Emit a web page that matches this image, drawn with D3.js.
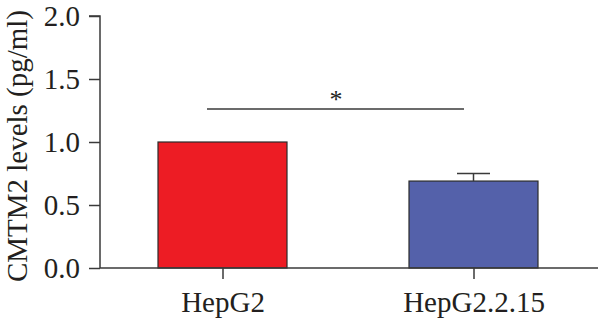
<!DOCTYPE html>
<html>
<head>
<meta charset="utf-8">
<script src="https://cdn.jsdelivr.net/npm/d3@7"></script>
<style>
  html, body { margin: 0; padding: 0; background: #fff; }
  svg { display: block; }
  text { font-family: "Liberation Serif", "DejaVu Serif", serif; fill: #231f20; }
</style>
</head>
<body>
<svg id="chart" width="600" height="322"></svg>
<script>
// CMTM2 levels per cell line
const categories = ["HepG2", "HepG2.2.15"];
const values = [1.0, 0.69];
const errors = [0, 0.06];
const colors = ["#ed1c24", "#5461aa"];
const yTicks = [0.0, 0.5, 1.0, 1.5, 2.0];
const yLabel = "CMTM2 levels (pg/ml)";
const significance = "*";

const svg = d3.select("#chart");
const axisColor = "#3a3a3a";
const fontSize = 29;

const xc = d3.scalePoint().domain(categories).range([222.5, 473.5]);
const barW = 129;
const y = d3.scaleLinear().domain([0, 2]).range([268, 16]);

// bars
svg.selectAll("rect.bar").data(categories).enter().append("rect")
  .attr("class", "bar")
  .attr("x", d => xc(d) - barW / 2)
  .attr("width", barW)
  .attr("y", (d, i) => y(values[i]))
  .attr("height", (d, i) => y(0) - y(values[i]))
  .attr("fill", (d, i) => colors[i])
  .attr("stroke", "#2b2b2b")
  .attr("stroke-width", 1.2);

// error bars (upper only)
categories.forEach((c, i) => {
  if (errors[i] > 0) {
    const top = y(values[i] + errors[i]);
    svg.append("line").attr("x1", xc(c)).attr("x2", xc(c))
      .attr("y1", y(values[i])).attr("y2", top)
      .attr("stroke", axisColor).attr("stroke-width", 1.5);
    svg.append("line").attr("x1", xc(c) - 16.5).attr("x2", xc(c) + 16.5)
      .attr("y1", top).attr("y2", top)
      .attr("stroke", axisColor).attr("stroke-width", 1.5);
  }
});

// y axis
const yAxis = d3.axisLeft(y).tickValues(yTicks).tickFormat(d3.format(".1f")).tickSize(11).tickPadding(9);
const gy = svg.append("g").attr("transform", "translate(100,0)").call(yAxis);
gy.select(".domain").attr("d", "M-11,16H0V268").attr("stroke", axisColor).attr("stroke-width", 1.5).attr("fill", "none");
gy.selectAll(".tick line").attr("stroke", axisColor).attr("stroke-width", 1.5);
gy.selectAll(".tick text").attr("font-size", fontSize).attr("font-family", "Liberation Serif, serif").attr("fill", "#231f20");

// x axis
const xAxis = d3.axisBottom(xc).tickSize(11).tickPadding(10);
const gx = svg.append("g").attr("transform", "translate(0,268)").call(xAxis);
gx.select(".domain").attr("d", "M100,0H598").attr("stroke", axisColor).attr("stroke-width", 1.5);
gx.selectAll(".tick line").attr("stroke", axisColor).attr("stroke-width", 1.5);
gx.selectAll(".tick text").attr("font-size", fontSize).attr("font-family", "Liberation Serif, serif")
  .attr("fill", "#231f20").attr("y", 44).attr("dy", 0);

// y label
svg.append("text")
  .attr("transform", "translate(27,146) rotate(-90)")
  .attr("text-anchor", "middle")
  .attr("font-size", fontSize)
  .attr("textLength", 272)
  .attr("lengthAdjust", "spacingAndGlyphs")
  .text(yLabel);

// significance bracket
svg.append("line").attr("x1", 207).attr("x2", 464).attr("y1", 109).attr("y2", 109)
  .attr("stroke", axisColor).attr("stroke-width", 1.5);
svg.append("text").attr("x", 336).attr("y", 108).attr("text-anchor", "middle")
  .attr("font-size", 26).text(significance);
</script>
</body>
</html>
